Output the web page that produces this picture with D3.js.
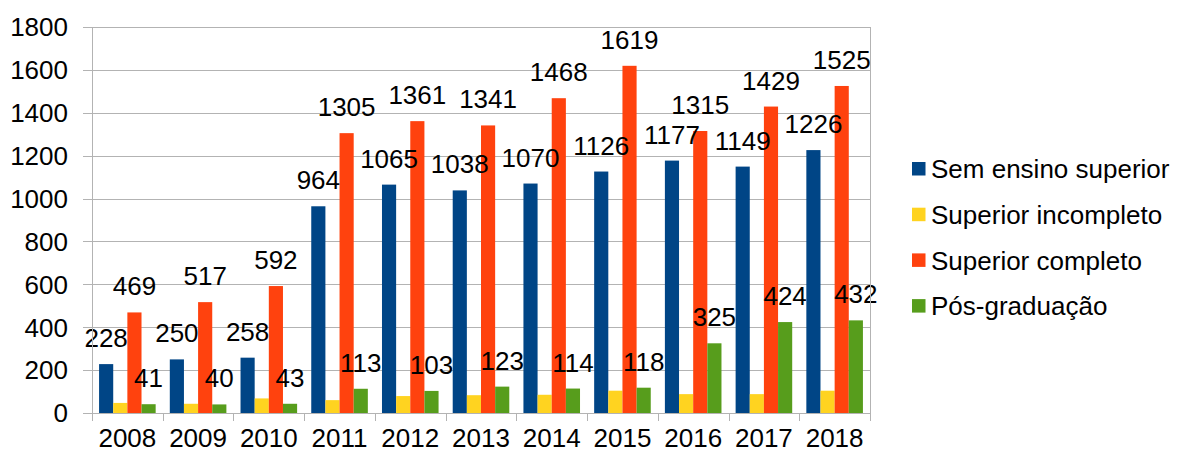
<!DOCTYPE html>
<html>
<head>
<meta charset="utf-8">
<script src="https://cdn.jsdelivr.net/npm/d3@7"></script>
<style>
  body { margin: 0; background: #fff; }
  svg { display: block; font-family: "Liberation Sans", Arial, sans-serif; }
</style>
</head>
<body>
<div id="chart"></div>
<script>
const years = ['2008', '2009', '2010', '2011', '2012', '2013', '2014', '2015', '2016', '2017', '2018'];
const seriesNames = ['Sem ensino superior', 'Superior incompleto', 'Superior completo', 'Pós-graduação'];
const semEnsino = [228, 250, 258, 964, 1065, 1038, 1070, 1126, 1177, 1149, 1226];
const supIncompleto = [47, 43, 68, 60, 79, 83, 85, 104, 88, 88, 104];
const supCompleto = [469, 517, 592, 1305, 1361, 1341, 1468, 1619, 1315, 1429, 1525];
const posGrad = [41, 40, 43, 113, 103, 123, 114, 118, 325, 424, 432];
const yTicks = [0, 200, 400, 600, 800, 1000, 1200, 1400, 1600, 1800];

const colors = ['#004586', '#ffd320', '#ff420e', '#579d1c'];
const showLabel = [true, false, true, true];
const values = [semEnsino, supIncompleto, supCompleto, posGrad];

const width = 1177, height = 454;
const plotLeft = 92, plotRight = 870, plotTop = 27, plotBottom = 413;
const fontSize = 26;

const svg = d3.select('#chart').append('svg')
  .attr('width', width)
  .attr('height', height);

const x = d3.scaleBand().domain(years).range([plotLeft, plotRight]).padding(0);
const x1 = d3.scaleBand().domain(d3.range(4)).range([0, x.bandwidth()])
  .paddingInner(0).paddingOuter(0.5);
const y = d3.scaleLinear().domain([0, 1800]).range([plotBottom, plotTop]);

// gridlines + left ticks
svg.append('g').selectAll('line')
  .data(yTicks)
  .join('line')
  .attr('x1', plotLeft - 9).attr('x2', plotRight)
  .attr('y1', d => Math.round(y(d)) + 0.5).attr('y2', d => Math.round(y(d)) + 0.5)
  .attr('stroke', '#b3b3b3').attr('stroke-width', 1);

// y labels
svg.append('g').selectAll('text')
  .data(yTicks)
  .join('text')
  .attr('x', 68)
  .attr('y', d => y(d))
  .attr('dy', '0.36em')
  .attr('text-anchor', 'end')
  .attr('font-size', fontSize)
  .attr('fill', '#000')
  .text(d => d);

// bars
const groups = svg.append('g').selectAll('g')
  .data(years)
  .join('g')
  .attr('transform', d => 'translate(' + x(d) + ',0)');

groups.selectAll('rect')
  .data((d, i) => values.map((v, s) => ({ s: s, v: v[i] })))
  .join('rect')
  .attr('x', d => x1(d.s))
  .attr('width', x1.bandwidth())
  .attr('y', d => y(d.v))
  .attr('height', d => y(0) - y(d.v))
  .attr('fill', d => colors[d.s]);

// data labels
groups.selectAll('text')
  .data((d, i) => values.map((v, s) => ({ s: s, v: v[i] })).filter(d => showLabel[d.s]))
  .join('text')
  .attr('x', d => x1(d.s) + x1.bandwidth() / 2)
  .attr('y', d => y(d.v) - 17)
  .attr('text-anchor', 'middle')
  .attr('font-size', fontSize)
  .attr('fill', '#000')
  .text(d => d.v);

// axes lines
svg.append('line')
  .attr('x1', plotLeft + 0.5).attr('x2', plotLeft + 0.5)
  .attr('y1', plotTop).attr('y2', plotBottom + 8)
  .attr('stroke', '#b3b3b3');
svg.append('line')
  .attr('x1', plotRight + 0.5).attr('x2', plotRight + 0.5)
  .attr('y1', plotTop).attr('y2', plotBottom + 8)
  .attr('stroke', '#b3b3b3');

// x ticks at band boundaries
svg.append('g').selectAll('line')
  .data(years.slice(1))
  .join('line')
  .attr('x1', d => Math.round(x(d)) + 0.5).attr('x2', d => Math.round(x(d)) + 0.5)
  .attr('y1', plotBottom).attr('y2', plotBottom + 8)
  .attr('stroke', '#b3b3b3');

// x labels
svg.append('g').selectAll('text')
  .data(years)
  .join('text')
  .attr('x', d => x(d) + x.bandwidth() / 2)
  .attr('y', 447)
  .attr('text-anchor', 'middle')
  .attr('font-size', fontSize)
  .attr('fill', '#000')
  .text(d => d);

// legend
const legend = svg.append('g').selectAll('g')
  .data(seriesNames)
  .join('g')
  .attr('transform', (d, i) => 'translate(912,' + (162 + i * 45.7) + ')');

legend.append('rect')
  .attr('width', 13.5).attr('height', 13.5)
  .attr('fill', (d, i) => colors[i]);

legend.append('text')
  .attr('x', 19)
  .attr('y', 6.75)
  .attr('dy', '0.36em')
  .attr('font-size', fontSize)
  .attr('fill', '#000')
  .text(d => d);
</script>
</body>
</html>
